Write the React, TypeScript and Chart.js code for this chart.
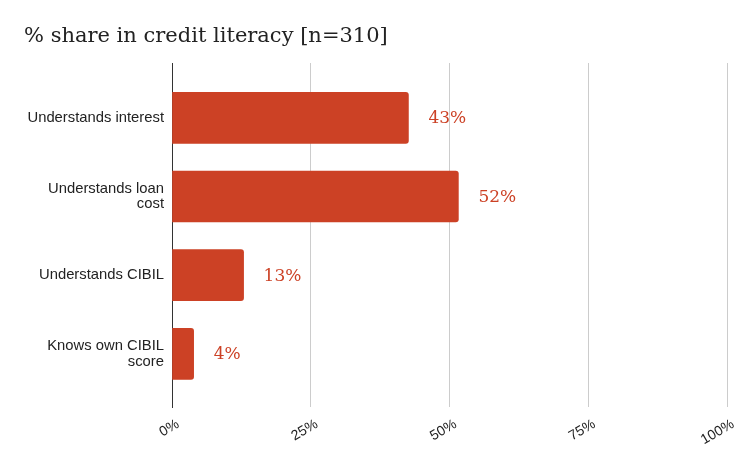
import React, { useEffect, useRef } from "react";
import { Chart, registerables } from "chart.js";

Chart.register(...registerables);

const titleText = "% share in credit literacy [n=310]";
const categories = [
  "Understands interest",
  "Understands loan\ncost",
  "Understands CIBIL",
  "Knows own CIBIL\nscore",
];
const values = [42.6, 51.6, 12.9, 3.9];
const xTicks = [0, 25, 50, 75, 100];

const BAR_COLOR = "#cc4125";
const LABEL_COLOR = "#cc4125";

const valueLabels = {
  id: "valueLabels",
  afterDatasetsDraw(chart: any) {
    const ctx = chart.ctx;
    const meta = chart.getDatasetMeta(0);
    ctx.save();
    ctx.font = "17px 'DejaVu Serif', serif";
    ctx.fillStyle = LABEL_COLOR;
    ctx.textAlign = "left";
    ctx.textBaseline = "middle";
    meta.data.forEach((bar: any, i: number) => {
      ctx.fillText(Math.round(values[i]) + "%", bar.x + 20, bar.y + 1);
    });
    ctx.restore();
  },
};

export default function App() {
  const ref = useRef<HTMLCanvasElement | null>(null);
  useEffect(() => {
    document.body.style.margin = "0";
    const canvas = ref.current;
    if (!canvas) return;
    const chart = new Chart(canvas, {
      type: "bar",
      data: {
        datasets: [
          {
            data: values.map((v, i) => ({ x: v, y: i })),
            backgroundColor: BAR_COLOR,
            borderRadius: 3,
            barThickness: 51,
          },
        ],
      },
      options: {
        indexAxis: "y",
        animation: false,
        responsive: true,
        maintainAspectRatio: false,
        layout: { padding: { left: 24, right: 23, top: 0, bottom: 0 } },
        plugins: {
          legend: { display: false },
          tooltip: { enabled: false },
          title: {
            display: true,
            text: titleText,
            align: "start",
            color: "#222222",
            font: { family: "'DejaVu Serif', serif", size: 21, weight: "normal", lineHeight: 1.2 },
            padding: { top: 23.5, bottom: 14.3 },
          },
        },
        scales: {
          x: {
            type: "linear",
            min: 0,
            max: 100,
            offset: false,
            afterBuildTicks: (s: any) => {
              s.ticks = xTicks.map((v) => ({ value: v }));
            },
            afterFit: (s: any) => {
              s.height = 56;
            },
            ticks: {
              minRotation: 30,
              maxRotation: 30,
              padding: 9,
              labelOffset: 6,
              color: "#222222",
              font: { family: "'Liberation Sans', Arial, sans-serif", size: 14 },
              callback: (v: any) => v + "%",
            },
            grid: {
              drawTicks: false,
              offset: false,
              color: (c: any) => (c.tick && c.tick.value === 0 ? "rgba(0,0,0,0)" : "#cccccc"),
              lineWidth: 1,
            },
            border: { display: false },
          },
          y: {
            type: "linear",
            reverse: true,
            offset: false,
            min: -0.697,
            max: 3.676,
            afterBuildTicks: (s: any) => {
              s.ticks = categories.map((_, i) => ({ value: i }));
            },
            afterFit: (s: any) => {
              s.width = 148;
            },
            ticks: {
              padding: 8,
              color: "#222222",
              font: { family: "'Liberation Sans', Arial, sans-serif", size: 14.8, lineHeight: 1.03 },
              callback: (v: any) => {
                const c = categories[Math.round(Number(v))];
                return c ? c.split("\n") : "";
              },
            },
            grid: { display: false, drawTicks: false, offset: false },
            border: { display: true, color: "#333333", width: 1 },
          },
        },
      },
      plugins: [valueLabels],
    } as any);
    return () => chart.destroy();
  }, []);
  return (
    <div style={{ width: 750, height: 463, position: "relative" }}>
      <canvas ref={ref} />
    </div>
  );
}
